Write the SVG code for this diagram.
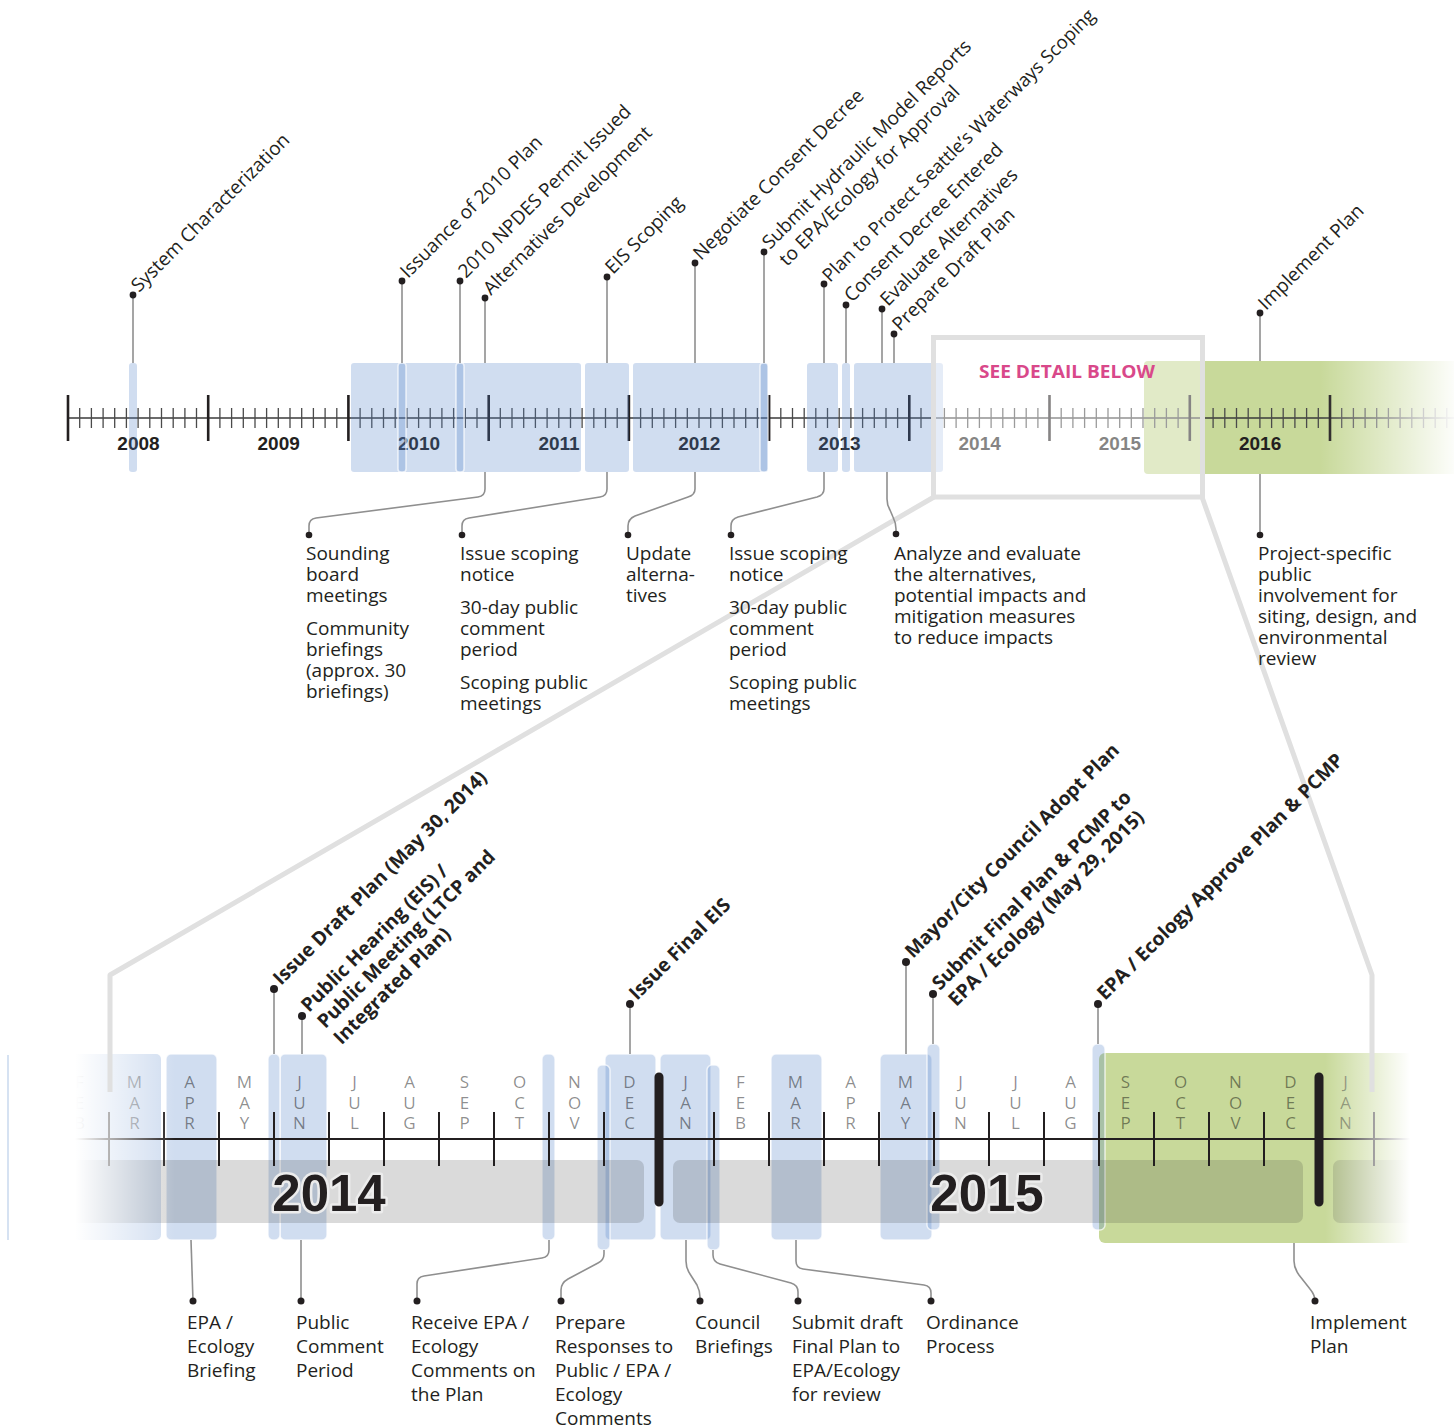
<svg xmlns="http://www.w3.org/2000/svg" width="1454" height="1428" viewBox="0 0 1454 1428">
<defs>
<linearGradient id="fadeRT" x1="0" y1="0" x2="1" y2="0"><stop offset="0" stop-color="#fff" stop-opacity="0"/><stop offset="1" stop-color="#fff" stop-opacity="0.95"/></linearGradient>
<linearGradient id="fadeLB" x1="0" y1="0" x2="1" y2="0"><stop offset="0" stop-color="#fff" stop-opacity="1"/><stop offset="0.43" stop-color="#fff" stop-opacity="1"/><stop offset="1" stop-color="#fff" stop-opacity="0"/></linearGradient>
<linearGradient id="fadeRB" x1="0" y1="0" x2="1" y2="0"><stop offset="0" stop-color="#fff" stop-opacity="0"/><stop offset="0.66" stop-color="#fff" stop-opacity="1"/><stop offset="1" stop-color="#fff" stop-opacity="1"/></linearGradient>
<style>
text{font-family:"Open Sans","Liberation Sans",sans-serif;fill:#231f20}
.lbl{font-size:19px}
.blbl{font-size:19.3px;font-weight:700}
.body{font-size:19px}
.yr{font-family:"Liberation Sans",Arial,sans-serif;font-weight:700;font-size:19px;text-anchor:middle}
.big{font-family:"Liberation Sans",Arial,sans-serif;font-weight:700;font-size:51px;text-anchor:middle;stroke:#ececec;stroke-width:5;paint-order:stroke;stroke-linejoin:round}
.mo{font-size:17px;text-anchor:middle;fill:#000;fill-opacity:0.45}
.blue{fill:#5182c8;fill-opacity:0.27}
.bar{fill:#5182c8;fill-opacity:0.27;stroke:#fff;stroke-opacity:0.7;stroke-width:1.5}
.stem{fill:none;stroke:#8f8f8f;stroke-width:1.6}
.dot{fill:#231f20}
.frame{fill:none;stroke:#e0e0e0;stroke-width:5;stroke-linejoin:round}
</style>
</defs>
<rect width="1454" height="1428" fill="#fff"/>

<!-- ================= TOP TIMELINE ================= -->
<g id="top-timeline">
<rect x="1144" y="361" width="320" height="113" rx="4" fill="#c8d99a"/>
<line x1="68" y1="418" x2="1454" y2="418" stroke="#3a3a3a" stroke-width="1.5"/>
<path stroke="#4a4a4a" stroke-width="1.3" fill="none" d="M79.7 408V428M91.4 408V428M103.1 408V428M114.7 408V428M126.4 408V428M138.1 408V428M149.8 408V428M161.5 408V428M173.2 408V428M184.9 408V428M196.5 408V428M219.9 408V428M231.6 408V428M243.3 408V428M255 408V428M266.6 408V428M278.3 408V428M290 408V428M301.7 408V428M313.4 408V428M325.1 408V428M336.8 408V428M360.1 408V428M371.8 408V428M383.5 408V428M395.2 408V428M406.9 408V428M418.6 408V428M430.2 408V428M441.9 408V428M453.6 408V428M465.3 408V428M477 408V428M500.3 408V428M512 408V428M523.7 408V428M535.4 408V428M547.1 408V428M558.8 408V428M570.5 408V428M582.1 408V428M593.8 408V428M605.5 408V428M617.2 408V428M640.6 408V428M652.3 408V428M663.9 408V428M675.6 408V428M687.3 408V428M699 408V428M710.7 408V428M722.4 408V428M734 408V428M745.7 408V428M757.4 408V428M780.8 408V428M792.5 408V428M804.2 408V428M815.8 408V428M827.5 408V428M839.2 408V428M850.9 408V428M862.6 408V428M874.3 408V428M886 408V428M897.6 408V428M921 408V428M932.7 408V428M944.4 408V428M956.1 408V428M967.7 408V428M979.4 408V428M991.1 408V428M1002.8 408V428M1014.5 408V428M1026.2 408V428M1037.9 408V428M1061.2 408V428M1072.9 408V428M1084.6 408V428M1096.3 408V428M1108 408V428M1119.7 408V428M1131.3 408V428M1143 408V428M1154.7 408V428M1166.4 408V428M1178.1 408V428M1201.4 408V428M1213.1 408V428M1224.8 408V428M1236.5 408V428M1248.2 408V428M1259.9 408V428M1271.6 408V428M1283.2 408V428M1294.9 408V428M1306.6 408V428M1318.3 408V428M1341.7 408V428M1353.4 408V428M1365.1 408V428M1376.7 408V428M1388.4 408V428M1400.1 408V428M1411.8 408V428M1423.5 408V428M1435.2 408V428M1446.8 408V428"/>
<path stroke="#231f20" stroke-width="2.6" fill="none" d="M68 395V441M208.2 395V441M348.4 395V441M488.7 395V441M628.9 395V441M769.1 395V441M909.3 395V441M1049.5 395V441M1189.8 395V441M1330 395V441"/>
<text class="yr" x="138.5" y="450">2008</text>
<text class="yr" x="278.7" y="450">2009</text>
<text class="yr" x="418.9" y="450">2010</text>
<text class="yr" x="559.1" y="450">2011</text>
<text class="yr" x="699.3" y="450">2012</text>
<text class="yr" x="839.5" y="450">2013</text>
<text class="yr" x="979.7" y="450">2014</text>
<text class="yr" x="1119.9" y="450">2015</text>
<text class="yr" x="1260.1" y="450">2016</text>
<!-- activity boxes -->
<rect class="blue" x="129" y="363" width="8" height="109" rx="3"/>
<rect class="blue" x="351" y="363" width="230" height="109" rx="3"/>
<rect class="bar" x="398" y="363" width="8" height="109" rx="3"/>
<rect class="bar" x="456" y="363" width="8" height="109" rx="3"/>
<rect class="blue" x="585" y="363" width="44" height="109" rx="3"/>
<rect class="blue" x="633" y="363" width="135" height="109" rx="3"/>
<rect class="bar" x="760" y="363" width="8" height="109" rx="3"/>
<rect class="blue" x="807" y="363" width="31" height="109" rx="3"/>
<rect class="blue" x="842" y="363" width="8" height="109" rx="3"/>
<rect class="blue" x="854" y="363" width="89" height="109" rx="3"/>
<rect x="1320" y="355" width="134" height="125" fill="url(#fadeRT)"/>
</g>

<!-- detail frame -->
<g id="detail-frame">
<rect x="933.5" y="337.5" width="269" height="159.5" fill="#fff" fill-opacity="0.45" stroke="#e0e0e0" stroke-width="5"/>
<text x="979" y="378" font-size="18.5" font-weight="700" style="fill:#d9488a" textLength="176" lengthAdjust="spacingAndGlyphs">SEE DETAIL BELOW</text>
</g>

<!-- ================= BOTTOM TIMELINE ================= -->
<g id="bottom-timeline">
<rect x="1099" y="1053" width="340" height="190" rx="6" fill="#c8d99a"/>
<rect class="blue" x="60" y="1054" width="101" height="186" rx="5"/>
<rect class="bar" x="166" y="1054" width="51" height="186" rx="5"/>
<rect class="bar" x="280" y="1054" width="47" height="186" rx="5"/>
<rect class="bar" x="268" y="1054" width="12" height="186" rx="5"/>
<rect class="bar" x="542" y="1054" width="13" height="186" rx="5"/>
<rect class="bar" x="605" y="1054" width="51" height="186" rx="5"/>
<rect class="bar" x="597" y="1065" width="13" height="185" rx="5"/>
<rect class="bar" x="660" y="1054" width="51" height="186" rx="5"/>
<rect class="bar" x="707" y="1065" width="13" height="185" rx="5"/>
<rect class="bar" x="771" y="1054" width="51" height="186" rx="5"/>
<rect class="bar" x="880" y="1054" width="52" height="186" rx="5"/>
<rect class="bar" x="927" y="1044" width="13" height="186" rx="5"/>
<rect class="bar" x="1092" y="1044" width="13" height="186" rx="5"/>
<!-- grey band -->
<g fill="#323232" fill-opacity="0.18">
<rect x="40" y="1160" width="604" height="63" rx="7"/>
<rect x="673" y="1160" width="630" height="63" rx="7"/>
<rect x="1333" y="1160" width="110" height="63" rx="7"/>
</g>
<line x1="40" y1="1139" x2="1440" y2="1139" stroke="#231f20" stroke-width="2"/>
<path stroke="#231f20" stroke-width="2" fill="none" d="M109 1112V1166M164 1112V1166M219 1112V1166M274 1112V1166M329 1112V1166M384 1112V1166M439 1112V1166M494 1112V1166M549 1112V1166M604 1112V1166M714 1112V1166M769 1112V1166M824 1112V1166M879 1112V1166M934 1112V1166M989 1112V1166M1044 1112V1166M1099 1112V1166M1154 1112V1166M1209 1112V1166M1264 1112V1166M1374 1112V1166"/>
<path stroke="#231f20" stroke-width="9" stroke-linecap="round" fill="none" d="M659 1077V1202M1319 1077V1202"/>
<text class="mo" x="79.5" y="1088">F<tspan x="79.5" dy="20.5">E</tspan><tspan x="79.5" dy="20.5">B</tspan></text>
<text class="mo" x="134.5" y="1088">M<tspan x="134.5" dy="20.5">A</tspan><tspan x="134.5" dy="20.5">R</tspan></text>
<text class="mo" x="189.5" y="1088">A<tspan x="189.5" dy="20.5">P</tspan><tspan x="189.5" dy="20.5">R</tspan></text>
<text class="mo" x="244.5" y="1088">M<tspan x="244.5" dy="20.5">A</tspan><tspan x="244.5" dy="20.5">Y</tspan></text>
<text class="mo" x="299.5" y="1088">J<tspan x="299.5" dy="20.5">U</tspan><tspan x="299.5" dy="20.5">N</tspan></text>
<text class="mo" x="354.5" y="1088">J<tspan x="354.5" dy="20.5">U</tspan><tspan x="354.5" dy="20.5">L</tspan></text>
<text class="mo" x="409.5" y="1088">A<tspan x="409.5" dy="20.5">U</tspan><tspan x="409.5" dy="20.5">G</tspan></text>
<text class="mo" x="464.5" y="1088">S<tspan x="464.5" dy="20.5">E</tspan><tspan x="464.5" dy="20.5">P</tspan></text>
<text class="mo" x="519.5" y="1088">O<tspan x="519.5" dy="20.5">C</tspan><tspan x="519.5" dy="20.5">T</tspan></text>
<text class="mo" x="574.5" y="1088">N<tspan x="574.5" dy="20.5">O</tspan><tspan x="574.5" dy="20.5">V</tspan></text>
<text class="mo" x="629.5" y="1088">D<tspan x="629.5" dy="20.5">E</tspan><tspan x="629.5" dy="20.5">C</tspan></text>
<text class="mo" x="685.5" y="1088">J<tspan x="685.5" dy="20.5">A</tspan><tspan x="685.5" dy="20.5">N</tspan></text>
<text class="mo" x="740.5" y="1088">F<tspan x="740.5" dy="20.5">E</tspan><tspan x="740.5" dy="20.5">B</tspan></text>
<text class="mo" x="795.5" y="1088">M<tspan x="795.5" dy="20.5">A</tspan><tspan x="795.5" dy="20.5">R</tspan></text>
<text class="mo" x="850.5" y="1088">A<tspan x="850.5" dy="20.5">P</tspan><tspan x="850.5" dy="20.5">R</tspan></text>
<text class="mo" x="905.5" y="1088">M<tspan x="905.5" dy="20.5">A</tspan><tspan x="905.5" dy="20.5">Y</tspan></text>
<text class="mo" x="960.5" y="1088">J<tspan x="960.5" dy="20.5">U</tspan><tspan x="960.5" dy="20.5">N</tspan></text>
<text class="mo" x="1015.5" y="1088">J<tspan x="1015.5" dy="20.5">U</tspan><tspan x="1015.5" dy="20.5">L</tspan></text>
<text class="mo" x="1070.5" y="1088">A<tspan x="1070.5" dy="20.5">U</tspan><tspan x="1070.5" dy="20.5">G</tspan></text>
<text class="mo" x="1125.5" y="1088">S<tspan x="1125.5" dy="20.5">E</tspan><tspan x="1125.5" dy="20.5">P</tspan></text>
<text class="mo" x="1180.5" y="1088">O<tspan x="1180.5" dy="20.5">C</tspan><tspan x="1180.5" dy="20.5">T</tspan></text>
<text class="mo" x="1235.5" y="1088">N<tspan x="1235.5" dy="20.5">O</tspan><tspan x="1235.5" dy="20.5">V</tspan></text>
<text class="mo" x="1290.5" y="1088">D<tspan x="1290.5" dy="20.5">E</tspan><tspan x="1290.5" dy="20.5">C</tspan></text>
<text class="mo" x="1345.5" y="1088">J<tspan x="1345.5" dy="20.5">A</tspan><tspan x="1345.5" dy="20.5">N</tspan></text>
<text class="big" x="329" y="1211">2014</text>
<text class="big" x="987" y="1211">2015</text>
<rect x="0" y="1040" width="175" height="215" fill="url(#fadeLB)"/>
<rect x="1325" y="1040" width="129" height="215" fill="url(#fadeRB)"/>
<line x1="8" y1="1055" x2="8" y2="1240" stroke="#c9d8ee" stroke-width="1.5"/>
</g>

<!-- ================= CONNECTORS ================= -->
<g id="connectors">
<path class="frame" d="M934 497L110 975V1092M1202 497L1372 975V1092"/>
<g class="stem">
<path d="M133 295V363M402 281V363M460 281V363M485 298V363M607 277V363M695 263V363M764 252V363M824 284V363M846 305V363M882 309V363M894 334V363M1260 313V361"/>
<path d="M485 472V489Q485 496 478 497L316 518Q309 519 309 526V535"/>
<path d="M607 472V489Q607 496 600 497L469 518Q462 519 462 526V535"/>
<path d="M695 472V489Q695 495 688 497L635 516Q628 519 628 526V535"/>
<path d="M824 472V489Q824 495 817 497L738 517Q731 519 731 526V535"/>
<path d="M887 472V499Q887 505 890 510L893 517Q896 523 896 529V534"/>
<path d="M1260 474V535"/>
<path d="M274 989V1054M302 1016V1054M630 1004V1054M906 962V1054M933 994V1044M1098 1004V1044"/>
<path d="M191 1240L193 1301"/>
<path d="M301 1240V1301"/>
<path d="M549 1240V1250Q549 1257 542 1258L424 1276Q417 1277 417 1284V1301"/>
<path d="M604 1250V1254Q604 1260 598 1263L568 1279Q561 1283 561 1290V1301"/>
<path d="M686 1240V1261Q686 1268 690 1274L697 1285Q700 1291 700 1297V1301"/>
<path d="M713 1250V1255Q713 1262 720 1264L791 1283Q798 1285 798 1292V1301"/>
<path d="M796 1240V1261Q796 1268 803 1269L924 1285Q931 1286 931 1293V1301"/>
<path d="M1294 1243V1261Q1294 1268 1299 1275L1310 1289Q1315 1295 1315 1301"/>
</g>
</g>

<!-- ================= TOP MILESTONE LABELS ================= -->
<g id="m-system"><circle class="dot" cx="133" cy="295" r="3.4"/><text class="lbl" transform="translate(139,293) rotate(-45)">System Characterization</text></g>
<g id="m-issuance"><circle class="dot" cx="402" cy="281" r="3.4"/><text class="lbl" transform="translate(408,279) rotate(-45)">Issuance of 2010 Plan</text></g>
<g id="m-npdes"><circle class="dot" cx="460" cy="281" r="3.4"/><text class="lbl" transform="translate(466,279) rotate(-45)">2010 NPDES Permit Issued</text></g>
<g id="m-altdev"><circle class="dot" cx="485" cy="298" r="3.4"/><text class="lbl" transform="translate(491,296) rotate(-45)">Alternatives Development</text></g>
<g id="m-eis"><circle class="dot" cx="607" cy="277" r="3.4"/><text class="lbl" transform="translate(613,275) rotate(-45)">EIS Scoping</text></g>
<g id="m-negotiate"><circle class="dot" cx="695" cy="263" r="3.4"/><text class="lbl" transform="translate(701,261) rotate(-45)">Negotiate Consent Decree</text></g>
<g id="m-hydraulic"><circle class="dot" cx="764" cy="252" r="3.4"/><g transform="translate(770,250) rotate(-45)"><text class="lbl">Submit Hydraulic Model Reports</text><text class="lbl" x="0" y="24">to EPA/Ecology for Approval</text></g></g>
<g id="m-waterways"><circle class="dot" cx="824" cy="284" r="3.4"/><text class="lbl" font-size="18.6" transform="translate(830,283) rotate(-45)" style="font-size:18.6px">Plan to Protect Seattle’s Waterways Scoping</text></g>
<g id="m-decree"><circle class="dot" cx="846" cy="305" r="3.4"/><text class="lbl" transform="translate(852,303) rotate(-45)">Consent Decree Entered</text></g>
<g id="m-evaluate"><circle class="dot" cx="882" cy="309" r="3.4"/><text class="lbl" transform="translate(888,307) rotate(-45)">Evaluate Alternatives</text></g>
<g id="m-draft"><circle class="dot" cx="894" cy="334" r="3.4"/><text class="lbl" transform="translate(900,332) rotate(-45)">Prepare Draft Plan</text></g>
<g id="m-implement"><circle class="dot" cx="1260" cy="313" r="3.4"/><text class="lbl" transform="translate(1266,311) rotate(-45)">Implement Plan</text></g>

<!-- ================= TOP ACTIVITY NOTES ================= -->
<g id="n-sounding"><circle class="dot" cx="309" cy="535" r="3.3"/><text class="body" x="306" y="560">Sounding<tspan x="306" dy="21">board</tspan><tspan x="306" dy="21">meetings</tspan><tspan x="306" dy="33">Community</tspan><tspan x="306" dy="21">briefings</tspan><tspan x="306" dy="21">(approx. 30</tspan><tspan x="306" dy="21">briefings)</tspan></text></g>
<g id="n-scoping1"><circle class="dot" cx="462" cy="535" r="3.3"/><text class="body" x="460" y="560">Issue scoping<tspan x="460" dy="21">notice</tspan><tspan x="460" dy="33">30-day public</tspan><tspan x="460" dy="21">comment</tspan><tspan x="460" dy="21">period</tspan><tspan x="460" dy="33">Scoping public</tspan><tspan x="460" dy="21">meetings</tspan></text></g>
<g id="n-update"><circle class="dot" cx="628" cy="535" r="3.3"/><text class="body" x="626" y="560">Update<tspan x="626" dy="21">alterna-</tspan><tspan x="626" dy="21">tives</tspan></text></g>
<g id="n-scoping2"><circle class="dot" cx="731" cy="535" r="3.3"/><text class="body" x="729" y="560">Issue scoping<tspan x="729" dy="21">notice</tspan><tspan x="729" dy="33">30-day public</tspan><tspan x="729" dy="21">comment</tspan><tspan x="729" dy="21">period</tspan><tspan x="729" dy="33">Scoping public</tspan><tspan x="729" dy="21">meetings</tspan></text></g>
<g id="n-analyze"><circle class="dot" cx="896" cy="534" r="3.3"/><text class="body" x="894" y="560">Analyze and evaluate<tspan x="894" dy="21">the alternatives,</tspan><tspan x="894" dy="21">potential impacts and</tspan><tspan x="894" dy="21">mitigation measures</tspan><tspan x="894" dy="21">to reduce impacts</tspan></text></g>
<g id="n-project"><circle class="dot" cx="1260" cy="535" r="3.3"/><text class="body" x="1258" y="560">Project-specific<tspan x="1258" dy="21">public</tspan><tspan x="1258" dy="21">involvement for</tspan><tspan x="1258" dy="21">siting, design, and</tspan><tspan x="1258" dy="21">environmental</tspan><tspan x="1258" dy="21">review</tspan></text></g>

<!-- ================= BOTTOM MILESTONE LABELS ================= -->
<g id="b-draftplan"><circle class="dot" cx="274" cy="989" r="4"/><text class="blbl" transform="translate(281,986) rotate(-45)">Issue Draft Plan (May 30, 2014)</text></g>
<g id="b-hearing"><circle class="dot" cx="302" cy="1016" r="4"/><g transform="translate(309,1013) rotate(-45)"><text class="blbl">Public Hearing (EIS) /</text><text class="blbl" x="0" y="23">Public Meeting (LTCP and</text><text class="blbl" x="0" y="46">Integrated Plan)</text></g></g>
<g id="b-finaleis"><circle class="dot" cx="630" cy="1004" r="4"/><text class="blbl" transform="translate(637,1001) rotate(-45)">Issue Final EIS</text></g>
<g id="b-adopt"><circle class="dot" cx="906" cy="962" r="4"/><text class="blbl" transform="translate(913,959) rotate(-45)">Mayor/City Council Adopt Plan</text></g>
<g id="b-submit"><circle class="dot" cx="933" cy="994" r="4"/><g transform="translate(940,991) rotate(-45)"><text class="blbl">Submit Final Plan &amp; PCMP to</text><text class="blbl" x="0" y="23">EPA / Ecology (May 29, 2015)</text></g></g>
<g id="b-approve"><circle class="dot" cx="1098" cy="1004" r="4"/><text class="blbl" transform="translate(1105,1001) rotate(-45)">EPA / Ecology Approve Plan &amp; PCMP</text></g>

<!-- ================= BOTTOM ACTIVITY NOTES ================= -->
<g id="c-briefing"><circle class="dot" cx="193" cy="1301" r="3.5"/><text class="body" x="187" y="1329">EPA /<tspan x="187" dy="24">Ecology</tspan><tspan x="187" dy="24">Briefing</tspan></text></g>
<g id="c-comment"><circle class="dot" cx="301" cy="1301" r="3.5"/><text class="body" x="296" y="1329">Public<tspan x="296" dy="24">Comment</tspan><tspan x="296" dy="24">Period</tspan></text></g>
<g id="c-receive"><circle class="dot" cx="417" cy="1301" r="3.5"/><text class="body" x="411" y="1329">Receive EPA /<tspan x="411" dy="24">Ecology</tspan><tspan x="411" dy="24">Comments on</tspan><tspan x="411" dy="24">the Plan</tspan></text></g>
<g id="c-prepare"><circle class="dot" cx="561" cy="1301" r="3.5"/><text class="body" x="555" y="1329">Prepare<tspan x="555" dy="24">Responses to</tspan><tspan x="555" dy="24">Public / EPA /</tspan><tspan x="555" dy="24">Ecology</tspan><tspan x="555" dy="24">Comments</tspan></text></g>
<g id="c-council"><circle class="dot" cx="700" cy="1301" r="3.5"/><text class="body" x="695" y="1329">Council<tspan x="695" dy="24">Briefings</tspan></text></g>
<g id="c-submitdraft"><circle class="dot" cx="798" cy="1301" r="3.5"/><text class="body" x="792" y="1329">Submit draft<tspan x="792" dy="24">Final Plan to</tspan><tspan x="792" dy="24">EPA/Ecology</tspan><tspan x="792" dy="24">for review</tspan></text></g>
<g id="c-ordinance"><circle class="dot" cx="931" cy="1301" r="3.5"/><text class="body" x="926" y="1329">Ordinance<tspan x="926" dy="24">Process</tspan></text></g>
<g id="c-implement"><circle class="dot" cx="1315" cy="1301" r="3.5"/><text class="body" x="1310" y="1329">Implement<tspan x="1310" dy="24">Plan</tspan></text></g>
</svg>
